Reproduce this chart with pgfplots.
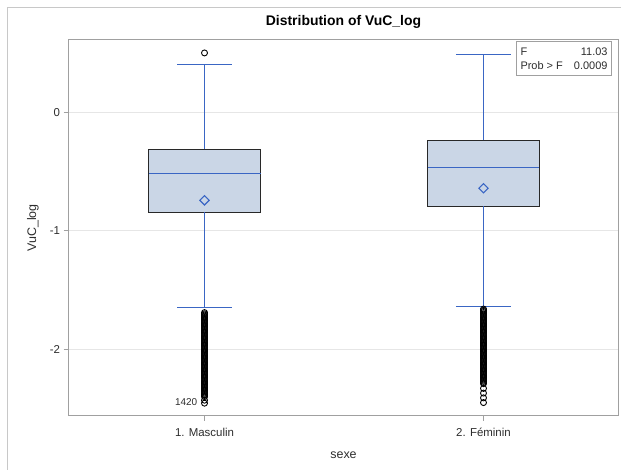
\documentclass[border=0pt]{standalone}
\usepackage{fontspec}
\setmainfont{Liberation Sans}
\usepackage{pgfplots}
\pgfplotsset{compat=1.18}
\definecolor{blueline}{RGB}{58,102,196}
\definecolor{boxfill}{RGB}{202,214,230}
\definecolor{boxedge}{RGB}{40,40,40}
\definecolor{axgray}{RGB}{160,160,160}
\definecolor{gridgray}{RGB}{230,230,230}
\definecolor{framegray}{RGB}{200,200,200}
\definecolor{txt}{RGB}{45,45,45}
\begin{document}
\begin{tikzpicture}
\path[use as bounding box] (0bp,0bp) rectangle (621bp,470bp);
\draw[framegray, line width=1bp] (7.5bp,0bp) -- (7.5bp,462.5bp) -- (621bp,462.5bp);
\begin{axis}[
  at={(68.5bp,54.3bp)}, anchor=south west,
  scale only axis, width=550bp, height=375.7bp,
  xmin=-0.4875, xmax=1.4839, ymin=-2.5608, ymax=0.6123,
  xtick={0,1}, xticklabels={1. Masculin, 2. Féminin},
  ytick={-2,-1,0}, yticklabels={-2,-1,0},
  tick pos=left, tick align=outside, major tick length=5bp,
  tick style={axgray, line width=0.8bp},
  axis line style={axgray, line width=1bp},
  ymajorgrids, grid style={gridgray, line width=0.8bp},
  ticklabel style={font=\fontsize{11.5}{13}\selectfont, text=txt},
  xticklabel style={yshift=-4bp},
  xlabel={sexe}, ylabel={VuC\_log},
  label style={font=\fontsize{12.5}{14}\selectfont, text=txt},
  xlabel style={at={(axis description cs:0.5,-0.1046)}, anchor=center},
  ylabel style={at={(axis description cs:-0.0645,0.5)}, anchor=center},
  title={Distribution of VuC\_log},
  title style={font=\bfseries\fontsize{14}{16}\selectfont, at={(axis description cs:0.5,1.032)}, anchor=center, yshift=0pt},
  bl/.style={blueline, line width=1.4bp},
]
% ---- Masculin (x=0): Q1=-0.8446, median=-0.5152, Q3=-0.3125, whiskers -1.6470 / 0.4054
\addplot[draw=boxedge, fill=boxfill, line width=1bp] coordinates {(-0.2007,-0.8446) (0.2007,-0.8446) (0.2007,-0.3125) (-0.2007,-0.3125)} -- cycle;
\addplot[bl] coordinates {(-0.2007,-0.5152) (0.2007,-0.5152)};
\addplot[bl] coordinates {(0,-0.3125) (0,0.4054)};
\addplot[bl] coordinates {(-0.0986,0.4054) (0.0986,0.4054)};
\addplot[bl] coordinates {(0,-0.8446) (0,-1.6470)};
\addplot[bl] coordinates {(-0.0986,-1.6470) (0.0986,-1.6470)};
% ---- Feminin (x=1): Q1=-0.7939, median=-0.4645, Q3=-0.2365, whiskers -1.6385 / 0.4899
\addplot[draw=boxedge, fill=boxfill, line width=1bp] coordinates {(0.7993,-0.7939) (1.2007,-0.7939) (1.2007,-0.2365) (0.7993,-0.2365)} -- cycle;
\addplot[bl] coordinates {(0.7993,-0.4645) (1.2007,-0.4645)};
\addplot[bl] coordinates {(1,-0.2365) (1,0.4899)};
\addplot[bl] coordinates {(0.9014,0.4899) (1.0986,0.4899)};
\addplot[bl] coordinates {(1,-0.7939) (1,-1.6385)};
\addplot[bl] coordinates {(0.9014,-1.6385) (1.0986,-1.6385)};
% means
\addplot[only marks, mark=square, mark size=3.3bp, blueline, line width=1.1bp,
  every mark/.append style={rotate=45}] coordinates {(0,-0.742) (1,-0.640)};
% outliers Masculin
\addplot[only marks, mark=o, mark size=3bp, black, line width=0.9bp] coordinates {
(0,0.503)
(0,-1.69)(0,-1.70)(0,-1.71)(0,-1.72)(0,-1.73)(0,-1.74)(0,-1.75)(0,-1.76)(0,-1.77)(0,-1.78)(0,-1.79)
(0,-1.80)(0,-1.81)(0,-1.82)(0,-1.83)(0,-1.84)(0,-1.85)(0,-1.86)(0,-1.87)(0,-1.88)(0,-1.89)
(0,-1.90)(0,-1.91)(0,-1.92)(0,-1.93)(0,-1.94)(0,-1.95)(0,-1.96)(0,-1.97)(0,-1.98)(0,-1.99)
(0,-2.00)(0,-2.01)(0,-2.02)(0,-2.03)(0,-2.04)(0,-2.05)(0,-2.06)(0,-2.07)(0,-2.08)(0,-2.09)
(0,-2.10)(0,-2.11)(0,-2.12)(0,-2.13)(0,-2.14)(0,-2.15)(0,-2.16)(0,-2.17)(0,-2.18)(0,-2.19)
(0,-2.20)(0,-2.21)(0,-2.22)(0,-2.23)(0,-2.24)(0,-2.25)(0,-2.26)(0,-2.27)(0,-2.28)(0,-2.29)
(0,-2.30)(0,-2.31)(0,-2.32)(0,-2.33)(0,-2.34)(0,-2.35)(0,-2.36)(0,-2.37)(0,-2.38)(0,-2.39)
(0,-2.40)(0,-2.43)(0,-2.455)
};
% outliers Feminin
\addplot[only marks, mark=o, mark size=3bp, black, line width=0.9bp] coordinates {
(1,-1.66)(1,-1.67)(1,-1.68)(1,-1.69)(1,-1.70)(1,-1.71)(1,-1.72)(1,-1.73)(1,-1.74)(1,-1.75)
(1,-1.76)(1,-1.77)(1,-1.78)(1,-1.79)(1,-1.80)(1,-1.81)(1,-1.82)(1,-1.83)(1,-1.84)(1,-1.85)
(1,-1.86)(1,-1.87)(1,-1.88)(1,-1.89)(1,-1.90)(1,-1.91)(1,-1.92)(1,-1.93)(1,-1.94)(1,-1.95)
(1,-1.96)(1,-1.97)(1,-1.98)(1,-1.99)(1,-2.00)(1,-2.01)(1,-2.02)(1,-2.03)(1,-2.04)(1,-2.05)
(1,-2.06)(1,-2.07)(1,-2.08)(1,-2.09)(1,-2.10)(1,-2.11)(1,-2.12)(1,-2.13)(1,-2.14)(1,-2.15)
(1,-2.16)(1,-2.17)(1,-2.18)(1,-2.19)(1,-2.20)(1,-2.21)(1,-2.22)(1,-2.23)(1,-2.24)(1,-2.25)
(1,-2.26)(1,-2.27)(1,-2.28)(1,-2.29)
(1,-2.33)(1,-2.37)(1,-2.41)(1,-2.45)
};
\node[anchor=east, font=\fontsize{10}{12}\selectfont, text=txt, inner sep=1bp] at (axis cs:-0.022,-2.445) {1420};
\node[draw=axgray, line width=0.8bp, fill=white, anchor=north east, inner xsep=4bp, inner ysep=6.5bp,
  align=left, font=\fontsize{11}{13.5}\selectfont, text=txt] at (rel axis cs:0.988,0.997)
  {\makebox[87bp]{F\hfill 11.03}\\\makebox[87bp]{Prob > F\hfill 0.0009}};
\end{axis}
\end{tikzpicture}
\end{document}
